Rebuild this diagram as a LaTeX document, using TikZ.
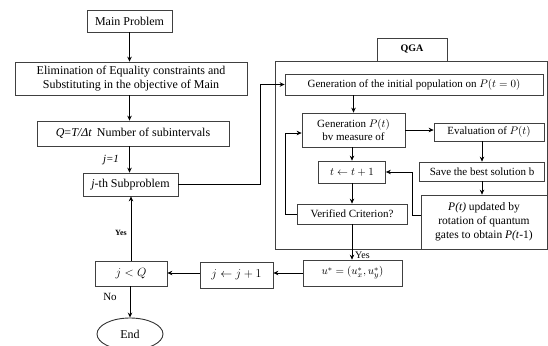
\documentclass[tikz,border=0pt]{standalone}
\usepackage{fontspec}
\setmainfont{Liberation Serif}
\usetikzlibrary{arrows.meta,calc,shapes.geometric}
\begin{document}
\begin{tikzpicture}[x=1pt,y=-1pt,
  box/.style={draw=black!75, line width=0.7pt, inner sep=0pt, align=center, font=\fontsize{12}{14}\selectfont},
  qbox/.style={box, font=\fontsize{11}{13.5}\selectfont},
  arr/.style={-{Stealth[length=5pt,width=4.5pt]}, line width=0.9pt, black},
  lbl/.style={inner sep=0pt}]
\useasboundingbox (0,0) rectangle (548,345);
% left column
\node[box, minimum width=85pt, minimum height=22pt] (main) at (129.5,21) {Main Problem};
\node[box, minimum width=232pt, minimum height=33pt] (elim) at (131,78.5) {Elimination of Equality constraints and\\Substituting in the objective of Main};
\node[box, minimum width=192pt, minimum height=25pt] (q) at (133,133.5) {\textit{Q}=\textit{T/Δt}\, Number of subintervals};
\node[box, minimum width=95pt, minimum height=23pt] (sub) at (130.5,184.5) {\textit{j}-th Subproblem};
\node[box, minimum width=72pt, minimum height=25pt] (jq) at (131,273.5) {$j<Q$};
\node[draw=black!80, line width=0.9pt, ellipse, minimum width=66pt, minimum height=32pt, inner sep=0pt, font=\fontsize{12}{14}\selectfont] (endn) at (130,334) {End};
\node[box, minimum width=73pt, minimum height=26pt] (jj) at (236.5,275) {$j\leftarrow j+1$};
% QGA
\node[draw=black!75, line width=0.7pt, minimum width=272.5pt, minimum height=188pt, inner sep=0pt] (frame) at (411.25,155) {};
\node[box, font=\bfseries\fontsize{10}{12}\selectfont, minimum width=70pt, minimum height=23pt] (qga) at (412,49.5) {QGA};
\node[qbox, minimum width=258pt, minimum height=21pt] (gen0) at (414,84.5) {Generation of the initial population on $P(t=0)$};
\node[qbox, minimum width=103pt, minimum height=34pt] (genP) at (353.5,130) {Generation $P(t)$\\bv measure of};
\node[qbox, minimum width=110pt, minimum height=18pt] (eval) at (489,132) {Evaluation of $P(t)$};
\node[qbox, minimum width=67pt, minimum height=22pt] (tt) at (352,172) {$t\leftarrow t+1$};
\node[qbox, minimum width=125pt, minimum height=19pt] (save) at (482,171.5) {Save the best solution b};
\node[qbox, minimum width=110pt, minimum height=20pt] (ver) at (352,214) {Verified Criterion?};
\node[qbox, minimum width=126pt, minimum height=54pt, font=\fontsize{11.5}{14}\selectfont] (upd) at (484,222) {\textit{P(t)} updated by\\rotation of quantum\\gates to obtain \textit{P(t}-1)};
\node[qbox, minimum width=99pt, minimum height=26pt] (ustar) at (352.5,273) {$u^{*}=(u^{*}_{x},u^{*}_{y})$};
% labels
\node[lbl, font=\itshape\fontsize{11}{13}\selectfont] (j1) at (111,160) {j=1};
\node[lbl, font=\bfseries\fontsize{8}{10}\selectfont, anchor=east] (yes1) at (127,233) {Yes};
\node[lbl, font=\fontsize{11}{13}\selectfont] (no) at (110,297) {No};
\node[lbl, font=\fontsize{10}{12}\selectfont, anchor=west] (yes2) at (355,255) {Yes};
% helper coordinates
\coordinate (c1) at (260,0);
\coordinate (c2) at (412,0);
\coordinate (c3) at (285,133);
% connectors
\draw[arr] (main.south) -- (main.south |- elim.north);
\draw[arr] (main.south |- elim.south) -- (main.south |- q.north);
\draw[arr] (main.south |- q.south) -- (main.south |- sub.north);
\draw[arr] (sub.east) -| (c1 |- gen0.west) -- (gen0.west);
\draw[arr] (genP.north |- gen0.south) -- (genP.north);
\draw[arr] (genP.east) -- (genP.east -| eval.west);
\draw[arr] (genP.south -| tt) -- (tt.north);
\draw[arr] (save.north |- eval.south) -- (save.north);
\draw[arr] (save.south) -- (save.south |- upd.north);
\draw[arr] ($(upd.west)+(0,-7)$) -| (c2 |- tt.east) -- (tt.east);
\draw[arr] (tt.south) -- (ver.north);
\draw[arr] (ver.west) -| (c3) -- (c3 -| genP.west);
\draw[arr] (ver.south) -- (ver.south |- ustar.north);
\draw[arr] (ustar.west) -- (ustar.west -| jj.east);
\draw[arr] (ustar.west -| jj.west) -- (ustar.west -| jq.east);
\draw[arr] (jq.north) -- (jq.north |- sub.south);
\draw[arr] (jq.south -| endn) -- (endn.north);
\end{tikzpicture}
\end{document}
